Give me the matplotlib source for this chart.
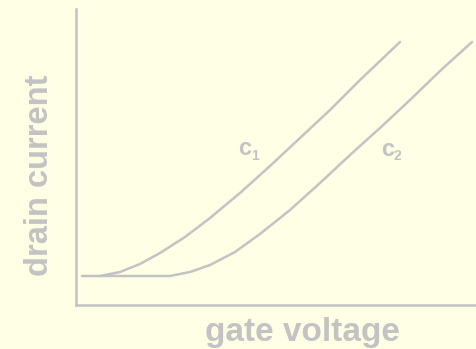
import matplotlib.pyplot as plt

# gate voltage / drain current curves (arbitrary units)
v1 = [6, 24, 44, 64, 84, 109, 134, 164, 194, 224, 254, 284, 324]
i1 = [29, 29, 33, 41, 52, 68, 87, 112, 139, 167, 195, 225, 263]

v2 = [24, 94, 114, 134, 159, 184, 214, 244, 274, 304, 334, 364, 396]
i2 = [29, 29, 33, 40, 53, 71, 95, 122, 150, 177, 205, 234, 263]

bg = '#FFFFE6'
grey = '#C3C3C3'

plt.rcParams['font.family'] = ['Liberation Sans', 'DejaVu Sans']

fig = plt.figure(figsize=(4.77, 3.49), dpi=100, facecolor=bg)
ax = fig.add_axes([76/477, 44/349, 401/477, 296/349])
ax.set_facecolor(bg)

ax.plot(v1, i1, color=grey, lw=1.8, solid_capstyle='round')
ax.plot(v2, i2, color=grey, lw=1.8, solid_capstyle='round')

ax.set_xlim(0, 401)
ax.set_ylim(0, 296)
ax.set_xticks([])
ax.set_yticks([])
for s in ['top', 'right']:
    ax.spines[s].set_visible(False)
for s in ['left', 'bottom']:
    ax.spines[s].set_color(grey)
    ax.spines[s].set_linewidth(1.8)

# curve labels: bold c with subscript
ax.text(162, 150, 'c', color=grey, fontsize=17, fontweight='bold', va='baseline')
ax.text(175, 145, '1', color=grey, fontsize=10, fontweight='bold', va='baseline')
ax.text(305, 149, 'c', color=grey, fontsize=17, fontweight='bold', va='baseline')
ax.text(318, 145, '2', color=grey, fontsize=10, fontweight='bold', va='baseline')

fig.text(302/477, 1 - 332/349, 'gate voltage', color=grey, fontsize=24,
         fontweight='bold', ha='center', va='center')
fig.text(40/477, 1 - 175/349, 'drain current', color=grey, fontsize=23.5,
         fontweight='bold', ha='center', va='center', rotation=90)

fig.savefig('out.png', dpi=100, facecolor=bg)
